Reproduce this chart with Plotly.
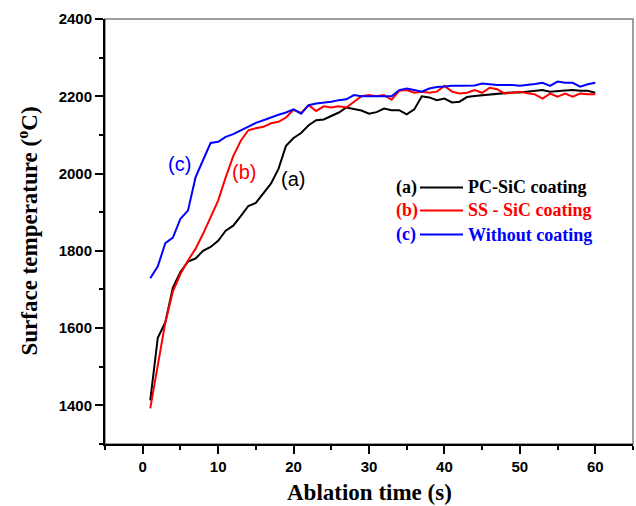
import plotly.graph_objects as go

time_s = list(range(1, 61))

pc_sic = [1413, 1575, 1615, 1705, 1745, 1772, 1780, 1800, 1810, 1826,
          1852, 1865, 1890, 1916, 1924, 1948, 1974, 2012, 2072, 2092,
          2105, 2125, 2138, 2140, 2150, 2158, 2171, 2166, 2163, 2155,
          2159, 2168, 2164, 2164, 2153, 2166, 2200, 2197, 2190, 2194,
          2184, 2186, 2198, 2201, 2203, 2205, 2206, 2209, 2210, 2210,
          2212, 2214, 2216, 2212, 2214, 2215, 2216, 2214, 2214, 2209]

ss_sic = [1392, 1505, 1615, 1695, 1740, 1775, 1805, 1844, 1886, 1930,
          1990, 2045, 2085, 2112, 2117, 2121, 2130, 2134, 2145, 2165,
          2157, 2177, 2162, 2174, 2171, 2174, 2171, 2185, 2200, 2203,
          2200, 2203, 2191, 2214, 2216, 2209, 2212, 2209, 2212, 2227,
          2212, 2207, 2209, 2216, 2209, 2222, 2218, 2207, 2210, 2212,
          2208, 2205, 2194, 2207, 2199, 2207, 2199, 2207, 2205, 2205]

without = [1729, 1760, 1820, 1834, 1883, 1904, 1990, 2034, 2079, 2082,
           2095, 2102, 2112, 2122, 2131, 2138, 2146, 2152, 2158, 2166,
           2155, 2177, 2181, 2183, 2186, 2190, 2192, 2203, 2200, 2200,
           2200, 2200, 2200, 2216, 2220, 2216, 2212, 2220, 2224, 2225,
           2227, 2227, 2227, 2228, 2233, 2231, 2229, 2229, 2229, 2227,
           2229, 2232, 2235, 2227, 2238, 2235, 2235, 2225, 2231, 2235]

series_names = ["PC-SiC coating", "SS - SiC coating", "Without coating"]
series_tags = ["(a)", "(b)", "(c)"]
series_colors = ["#000000", "#ff0000", "#0000ff"]
series_data = [pc_sic, ss_sic, without]

# curve label positions (data coords)
curve_label_pos = [(19.9, 1987), (13.4, 2003), (4.9, 2026)]

fig = go.Figure()
for name, ys, col in zip(series_names, series_data, series_colors):
    fig.add_trace(go.Scatter(x=time_s, y=ys, mode="lines", name=name,
                             line=dict(color=col, width=2), showlegend=False))

ann = []
for tag, col, (lx, ly) in zip(series_tags, series_colors, curve_label_pos):
    ann.append(dict(x=lx, y=ly, xref="x", yref="y", text=tag, showarrow=False,
                    font=dict(family="Liberation Sans, Arial", size=20, color=col)))

# custom legend
shapes = [dict(type="rect", xref="paper", yref="paper", x0=0, x1=1, y0=0, y1=1,
               line=dict(color="#808080", width=1.5), layer="below")]
leg_x_tag = (394 - 105) / 528
leg_x_l0 = (420 - 105) / 528
leg_x_l1 = (463 - 105) / 528
leg_x_txt = (466 - 105) / 528
leg_rows = [187, 210, 234]
for tag, name, col, py in zip(series_tags, series_names, series_colors, leg_rows):
    yp = (443 - py) / 424
    ann.append(dict(x=leg_x_tag, y=yp, xref="paper", yref="paper", text="<b>%s</b>" % tag,
                    showarrow=False, xanchor="left", yanchor="middle",
                    font=dict(family="Liberation Serif, Times New Roman", size=18, color=col)))
    ann.append(dict(x=leg_x_txt, y=yp, xref="paper", yref="paper", text="<b>%s</b>" % name,
                    showarrow=False, xanchor="left", yanchor="middle",
                    font=dict(family="Liberation Serif, Times New Roman", size=18, color=col)))
    shapes.append(dict(type="line", xref="paper", yref="paper", x0=leg_x_l0, x1=leg_x_l1,
                       y0=yp, y1=yp, line=dict(color=col, width=2)))

# axis titles
ann.append(dict(x=0.5, y=(443 - 491) / 424, xref="paper", yref="paper",
                text="<b>Ablation time (s)</b>", showarrow=False,
                xanchor="center", yanchor="middle",
                font=dict(family="Liberation Serif, Times New Roman", size=23, color="black")))
ann.append(dict(x=(28 - 105) / 528, y=0.5, xref="paper", yref="paper",
                text="<b>Surface temperature (<sup>o</sup>C)</b>", showarrow=False,
                textangle=-90, xanchor="center", yanchor="middle",
                font=dict(family="Liberation Serif, Times New Roman", size=23, color="black")))

fig.update_layout(
    width=636, height=506,
    margin=dict(l=105, r=3, t=19, b=62),
    paper_bgcolor="white", plot_bgcolor="white",
    annotations=ann, shapes=shapes,
    xaxis=dict(range=[-5, 65], tickmode="linear", tick0=0, dtick=10,
               showgrid=False, zeroline=False, showline=True, linecolor="black", linewidth=2,
               ticks="outside", ticklen=8, tickwidth=2, tickcolor="black",
               minor=dict(tick0=-5, dtick=5, ticks="outside", ticklen=4, tickwidth=2, tickcolor="black"),
               tickfont=dict(family="Liberation Sans, Arial", size=15, color="black", weight="bold")),
    yaxis=dict(range=[1300, 2400], tickmode="linear", tick0=1400, dtick=200,
               showgrid=False, zeroline=False, showline=True, linecolor="black", linewidth=2,
               ticks="outside", ticklen=8, tickwidth=2, tickcolor="black",
               minor=dict(dtick=100, ticks="outside", ticklen=4, tickwidth=2, tickcolor="black"),
               tickfont=dict(family="Liberation Sans, Arial", size=15, color="black", weight="bold")),
)

fig.write_html("out.html")
